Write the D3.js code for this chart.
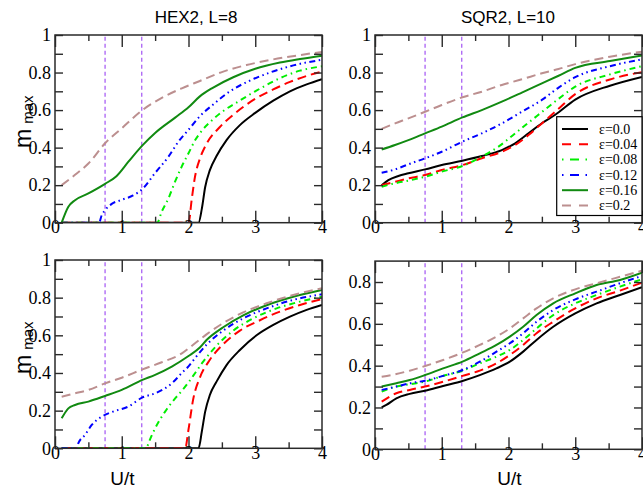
<!DOCTYPE html>
<html><head><meta charset="utf-8">
<script src="https://cdn.jsdelivr.net/npm/d3@7"></script>
<style>body{margin:0;background:#fff}svg{display:block}</style>
</head><body>
<svg id="c" width="643" height="488"></svg>
<script>
// ---------- data ----------
const epsLabels = ["ε=0.0","ε=0.04","ε=0.08","ε=0.12","ε=0.16","ε=0.2"];
const titles = ["HEX2, L=8","SQR2, L=10"];
const xTicks = [0,1,2,3,4];
const xMinorTicks = [0.5,1.5,2.5,3.5];
const yTicksFull = [0,0.2,0.4,0.6,0.8,1];
const yTicksShort = [0,0.2,0.4,0.6,0.8];
const yMinorFull = [0.1,0.3,0.5,0.7,0.9];
const yMinorShort = [0.1,0.3,0.5,0.7];
const vLines = [0.75,1.3];

// HEX2 top
const hexA_e0  = [[0.1,0],[2.15,0],[2.2,0.075],[2.25,0.19],[2.32,0.28],[2.42,0.355],[2.57,0.44],[2.77,0.52],[3.0,0.585],[3.27,0.65],[3.52,0.7],[3.77,0.737],[4.0,0.765]];
const hexA_e04 = [[0.1,0],[2.0,0],[2.05,0.13],[2.1,0.25],[2.17,0.34],[2.27,0.42],[2.47,0.51],[2.67,0.575],[3.0,0.66],[3.27,0.71],[3.52,0.75],[3.77,0.782],[4.0,0.805]];
const hexA_e08 = [[0.1,0],[1.53,0],[1.6,0.06],[1.7,0.13],[1.8,0.22],[1.9,0.3],[2.0,0.37],[2.1,0.44],[2.2,0.49],[2.35,0.545],[2.5,0.59],[2.72,0.64],[3.0,0.7],[3.37,0.77],[3.67,0.81],[4.0,0.833]];
const hexA_e12 = [[0.1,0],[0.66,0],[0.7,0.04],[0.75,0.067],[0.85,0.1],[1.0,0.122],[1.17,0.145],[1.31,0.18],[1.5,0.265],[1.7,0.352],[1.85,0.432],[2.0,0.495],[2.17,0.567],[2.37,0.63],[2.62,0.7],[2.92,0.757],[3.22,0.8],[3.57,0.838],[4.0,0.868]];
const hexA_e16 = [[0.1,0],[0.2,0.085],[0.3,0.12],[0.5,0.156],[0.75,0.207],[0.92,0.248],[1.1,0.325],[1.31,0.412],[1.5,0.478],[1.8,0.56],[2.0,0.615],[2.17,0.673],[2.37,0.72],[2.67,0.775],[3.0,0.82],[3.37,0.853],[3.67,0.872],[4.0,0.89]];
const hexA_e20 = [[0.1,0.2],[0.3,0.255],[0.5,0.315],[0.75,0.423],[1.0,0.503],[1.31,0.6],[1.6,0.665],[1.9,0.716],[2.17,0.755],[2.52,0.805],[2.87,0.84],[3.27,0.87],[3.67,0.893],[4.0,0.91]];

// SQR2 top
const sqrA_e0  = [[0.1,0.2],[0.2,0.227],[0.35,0.249],[0.5,0.263],[0.75,0.284],[1.0,0.307],[1.31,0.33],[1.6,0.355],[1.9,0.387],[2.1,0.423],[2.3,0.476],[2.5,0.53],[2.7,0.575],[3.0,0.656],[3.52,0.73],[4.0,0.777]];
const sqrA_e04 = [[0.1,0.2],[0.3,0.218],[0.5,0.236],[0.75,0.254],[1.0,0.281],[1.31,0.307],[1.6,0.343],[1.9,0.378],[2.1,0.414],[2.3,0.467],[2.5,0.529],[2.7,0.591],[3.0,0.685],[3.52,0.763],[4.0,0.802]];
const sqrA_e08 = [[0.1,0.192],[0.3,0.21],[0.5,0.224],[0.75,0.245],[1.0,0.272],[1.31,0.302],[1.6,0.352],[1.85,0.405],[2.1,0.476],[2.35,0.547],[2.6,0.618],[2.75,0.66],[3.0,0.725],[3.52,0.79],[4.0,0.834]];
const sqrA_e12 = [[0.1,0.266],[0.3,0.284],[0.5,0.311],[0.75,0.343],[1.0,0.378],[1.31,0.432],[1.6,0.476],[1.9,0.529],[2.2,0.591],[2.5,0.654],[2.75,0.72],[3.0,0.775],[3.52,0.834],[4.0,0.87]];
const sqrA_e16 = [[0.1,0.39],[0.3,0.414],[0.5,0.44],[0.75,0.476],[1.0,0.512],[1.31,0.561],[1.6,0.6],[1.9,0.645],[2.2,0.693],[2.5,0.742],[2.75,0.783],[3.0,0.825],[3.52,0.861],[4.0,0.891]];
const sqrA_e20 = [[0.1,0.5],[0.3,0.529],[0.5,0.556],[0.75,0.591],[1.0,0.627],[1.31,0.668],[1.6,0.698],[1.9,0.734],[2.2,0.764],[2.5,0.796],[2.75,0.819],[3.0,0.845],[3.52,0.884],[4.0,0.911]];

// HEX2 bottom
const hexB_e0  = [[0.1,0],[2.15,0],[2.2,0.09],[2.25,0.195],[2.32,0.283],[2.42,0.354],[2.57,0.442],[2.77,0.522],[3.02,0.6],[3.27,0.655],[3.52,0.699],[3.77,0.735],[4.0,0.761]];
const hexB_e04 = [[0.1,0],[1.95,0],[2.0,0.1],[2.07,0.26],[2.17,0.375],[2.32,0.47],[2.52,0.553],[2.77,0.625],[3.07,0.68],[3.37,0.726],[3.67,0.761],[4.0,0.793]];
const hexB_e08 = [[0.1,0],[1.37,0],[1.4,0.027],[1.5,0.106],[1.65,0.195],[1.8,0.265],[1.9,0.305],[2.0,0.35],[2.1,0.4],[2.22,0.46],[2.42,0.545],[2.67,0.625],[2.97,0.69],[3.32,0.743],[3.67,0.779],[4.0,0.805]];
const hexB_e12 = [[0.1,0],[0.33,0],[0.35,0.027],[0.45,0.071],[0.55,0.124],[0.7,0.168],[0.87,0.195],[1.1,0.222],[1.31,0.27],[1.5,0.292],[1.75,0.345],[1.9,0.4],[2.0,0.435],[2.1,0.48],[2.27,0.55],[2.52,0.625],[2.82,0.69],[3.17,0.743],[3.57,0.788],[4.0,0.818]];
const hexB_e16 = [[0.1,0.159],[0.2,0.212],[0.3,0.23],[0.5,0.248],[0.75,0.278],[1.0,0.31],[1.31,0.363],[1.5,0.39],[1.75,0.434],[2.0,0.49],[2.17,0.535],[2.27,0.575],[2.52,0.643],[2.82,0.706],[3.17,0.76],[3.57,0.805],[4.0,0.841]];
const hexB_e20 = [[0.1,0.274],[0.3,0.292],[0.5,0.31],[0.75,0.345],[1.0,0.375],[1.31,0.419],[1.6,0.457],[1.9,0.504],[2.07,0.55],[2.27,0.605],[2.52,0.665],[2.82,0.722],[3.17,0.77],[3.57,0.814],[4.0,0.85]];

// SQR2 bottom
const sqrB_e0  = [[0.1,0.2],[0.17,0.212],[0.32,0.244],[0.52,0.265],[0.75,0.28],[1.02,0.303],[1.31,0.327],[1.57,0.355],[1.82,0.387],[2.02,0.419],[2.22,0.467],[2.42,0.523],[2.67,0.586],[3.0,0.65],[3.32,0.698],[3.67,0.738],[4.0,0.775]];
const sqrB_e04 = [[0.1,0.228],[0.32,0.268],[0.52,0.284],[0.75,0.3],[1.02,0.323],[1.31,0.351],[1.57,0.376],[1.82,0.411],[2.02,0.451],[2.22,0.499],[2.42,0.555],[2.67,0.61],[3.0,0.674],[3.32,0.722],[3.67,0.759],[4.0,0.797]];
const sqrB_e08 = [[0.1,0.276],[0.32,0.3],[0.52,0.311],[0.75,0.324],[1.02,0.351],[1.31,0.376],[1.57,0.411],[1.82,0.443],[2.02,0.475],[2.22,0.523],[2.42,0.578],[2.67,0.642],[3.0,0.698],[3.32,0.738],[3.67,0.778],[4.0,0.813]];
const sqrB_e12 = [[0.1,0.284],[0.32,0.3],[0.52,0.316],[0.75,0.328],[1.02,0.351],[1.31,0.379],[1.57,0.419],[1.82,0.467],[2.02,0.507],[2.22,0.555],[2.42,0.61],[2.67,0.666],[3.0,0.717],[3.32,0.754],[3.67,0.794],[4.0,0.829]];
const sqrB_e16 = [[0.1,0.3],[0.32,0.316],[0.52,0.331],[0.75,0.355],[1.02,0.387],[1.31,0.419],[1.57,0.459],[1.82,0.499],[2.02,0.539],[2.22,0.586],[2.42,0.642],[2.67,0.698],[3.0,0.746],[3.32,0.786],[3.67,0.81],[4.0,0.845]];
const sqrB_e20 = [[0.1,0.347],[0.32,0.36],[0.52,0.376],[0.75,0.398],[1.02,0.427],[1.31,0.462],[1.57,0.499],[1.82,0.539],[2.02,0.578],[2.22,0.626],[2.42,0.674],[2.67,0.722],[3.0,0.765],[3.32,0.794],[3.67,0.825],[4.0,0.854]];

// ---------- styles ----------
const styles = [
  {color:"#000000", dash:null,                    legendDash:null},
  {color:"#ff0000", dash:"9,5",                   legendDash:"9,8"},
  {color:"#00ee00", dash:"6,4,1.5,4",             legendDash:"1.5,6.5,9,6.5,1.5"},
  {color:"#0000ff", dash:"6,3.5,1.5,3.5,1.5,3.5", legendDash:"1.5,6.5,9,6.5,1.5"},
  {color:"#118a11", dash:null,                    legendDash:null},
  {color:"#bc8f8f", dash:"9,5",                   legendDash:"9,8"}
];

const panels = [
  {series:[hexA_e0,hexA_e04,hexA_e08,hexA_e12,hexA_e16,hexA_e20], ymax:1, yt:yTicksFull, ym:yMinorFull,
   box:{l:55,r:322,t:35,b:222.7}, title:titles[0], titleX:196, ylabelY:148, xlabelX:null, legend:false},
  {series:[sqrA_e0,sqrA_e04,sqrA_e08,sqrA_e12,sqrA_e16,sqrA_e20], ymax:1, yt:yTicksFull, ym:yMinorFull,
   box:{l:375,r:642,t:35,b:222.7}, title:titles[1], titleX:508, ylabelY:null, xlabelX:null, legend:true},
  {series:[hexB_e0,hexB_e04,hexB_e08,hexB_e12,hexB_e16,hexB_e20], ymax:1, yt:yTicksFull, ym:yMinorFull,
   box:{l:55,r:322,t:260,b:448.3}, title:null, ylabelY:374, xlabelX:122.5, legend:false},
  {series:[sqrB_e0,sqrB_e04,sqrB_e08,sqrB_e12,sqrB_e16,sqrB_e20], ymax:0.9, yt:yTicksShort, ym:yMinorShort,
   box:{l:375,r:642,t:261.1,b:449.3}, title:null, ylabelY:null, xlabelX:509.5, legend:false}
];

const svg = d3.select("#c");
const FRAME = "#2a2a2a";
const serif = "Liberation Serif, DejaVu Serif, serif";
const sans = "Liberation Sans, DejaVu Sans, sans-serif";

panels.forEach((p,pi)=>{
  const b = p.box;
  const x = d3.scaleLinear().domain([0,4]).range([b.l,b.r]);
  const y = d3.scaleLinear().domain([0,p.ymax]).range([b.b,b.t]);
  const g = svg.append("g");

  const styleAxis = sel => {
    sel.attr("font-family",serif).attr("font-size",18);
    sel.select(".domain").remove();
    sel.selectAll(".tick line").attr("stroke",FRAME).attr("stroke-width",1.4);
    sel.selectAll("text").attr("fill","#000").style("font-family",serif).style("font-size","18px");
  };

  // vertical dashed lines
  g.selectAll(".vl").data(vLines).join("line")
    .attr("x1",d=>x(d)).attr("x2",d=>x(d)).attr("y1",y(0)).attr("y2",y(p.ymax))
    .attr("stroke","#9a44f2").attr("stroke-width",1.1).attr("stroke-dasharray","4,3");

  // curves
  const clipId = "clip"+pi;
  svg.append("clipPath").attr("id",clipId).append("rect")
    .attr("x",b.l).attr("y",b.t).attr("width",b.r-b.l).attr("height",b.b-b.t);
  const line = d3.line().x(d=>x(d[0])).y(d=>y(d[1])).curve(d3.curveMonotoneX);
  const cg = g.append("g").attr("clip-path",`url(#${clipId})`);
  p.series.forEach((s,si)=>{
    cg.append("path").datum(s).attr("d",line).attr("fill","none")
      .attr("stroke",styles[si].color).attr("stroke-width",2)
      .attr("stroke-dasharray",styles[si].dash);
  });

  // axes: bottom (labels), top mirrored
  g.append("g").attr("transform",`translate(0,${b.b})`)
    .call(d3.axisBottom(x).tickValues(xTicks).tickFormat(d3.format("d")).tickSize(-12).tickPadding(-2))
    .call(styleAxis);
  g.append("g").attr("transform",`translate(0,${b.b})`)
    .call(d3.axisBottom(x).tickValues(xMinorTicks).tickFormat("").tickSize(-6)).call(styleAxis);
  g.append("g").attr("transform",`translate(0,${b.t})`)
    .call(d3.axisTop(x).tickValues(xTicks).tickFormat("").tickSize(-12)).call(styleAxis);
  g.append("g").attr("transform",`translate(0,${b.t})`)
    .call(d3.axisTop(x).tickValues(xMinorTicks).tickFormat("").tickSize(-6)).call(styleAxis);
  // left (labels), right mirrored
  const yfmt = d => d===0 ? "0" : (d===1 ? "1" : d3.format(".1f")(d));
  g.append("g").attr("transform",`translate(${b.l},0)`)
    .call(d3.axisLeft(y).tickValues(p.yt).tickFormat(yfmt).tickSize(-8).tickPadding(4)).call(styleAxis);
  g.append("g").attr("transform",`translate(${b.l},0)`)
    .call(d3.axisLeft(y).tickValues(p.ym).tickFormat("").tickSize(-8)).call(styleAxis);
  g.append("g").attr("transform",`translate(${b.r},0)`)
    .call(d3.axisRight(y).tickValues(p.yt).tickFormat("").tickSize(-8)).call(styleAxis);
  g.append("g").attr("transform",`translate(${b.r},0)`)
    .call(d3.axisRight(y).tickValues(p.ym).tickFormat("").tickSize(-8)).call(styleAxis);

  // frame
  g.append("rect").attr("x",b.l).attr("y",b.t).attr("width",b.r-b.l).attr("height",b.b-b.t)
    .attr("fill","none").attr("stroke",FRAME).attr("stroke-width",1.5);

  // title
  if(p.title){
    g.append("text").attr("x",p.titleX).attr("y",22.5).attr("text-anchor","middle")
      .style("font-family",sans).style("font-size","17px").attr("fill","#000").text(p.title);
  }
  // y label
  if(p.ylabelY!==null){
    const t = g.append("text").attr("transform",`translate(31,${p.ylabelY}) rotate(-90)`)
      .style("font-family",sans).attr("fill","#000");
    t.append("tspan").style("font-size","23px").text("m");
    t.append("tspan").style("font-size","15px").attr("dx",5).attr("dy",2).text("max");
  }
  // x label
  if(p.xlabelX!==null){
    g.append("text").attr("x",p.xlabelX).attr("y",485).attr("text-anchor","middle")
      .style("font-family",sans).style("font-size","19px").attr("fill","#000").text("U/t");
  }
  // legend
  if(p.legend){
    const lg = g.append("g");
    lg.append("rect").attr("x",556.7).attr("y",116.7).attr("width",b.r-556.7).attr("height",98.8)
      .attr("fill","#fff").attr("stroke","#000").attr("stroke-width",1.2);
    epsLabels.forEach((lab,i)=>{
      const yy = 129 + i*15.3;
      lg.append("line").attr("x1",562).attr("x2",588).attr("y1",yy).attr("y2",yy)
        .attr("stroke",styles[i].color).attr("stroke-width",2)
        .attr("stroke-dasharray",styles[i].legendDash);
      lg.append("text").attr("x",599).attr("y",yy+4.8).style("font-family",serif)
        .style("font-size","14px").attr("fill","#000").text(lab);
    });
  }
});
</script>
</body></html>
